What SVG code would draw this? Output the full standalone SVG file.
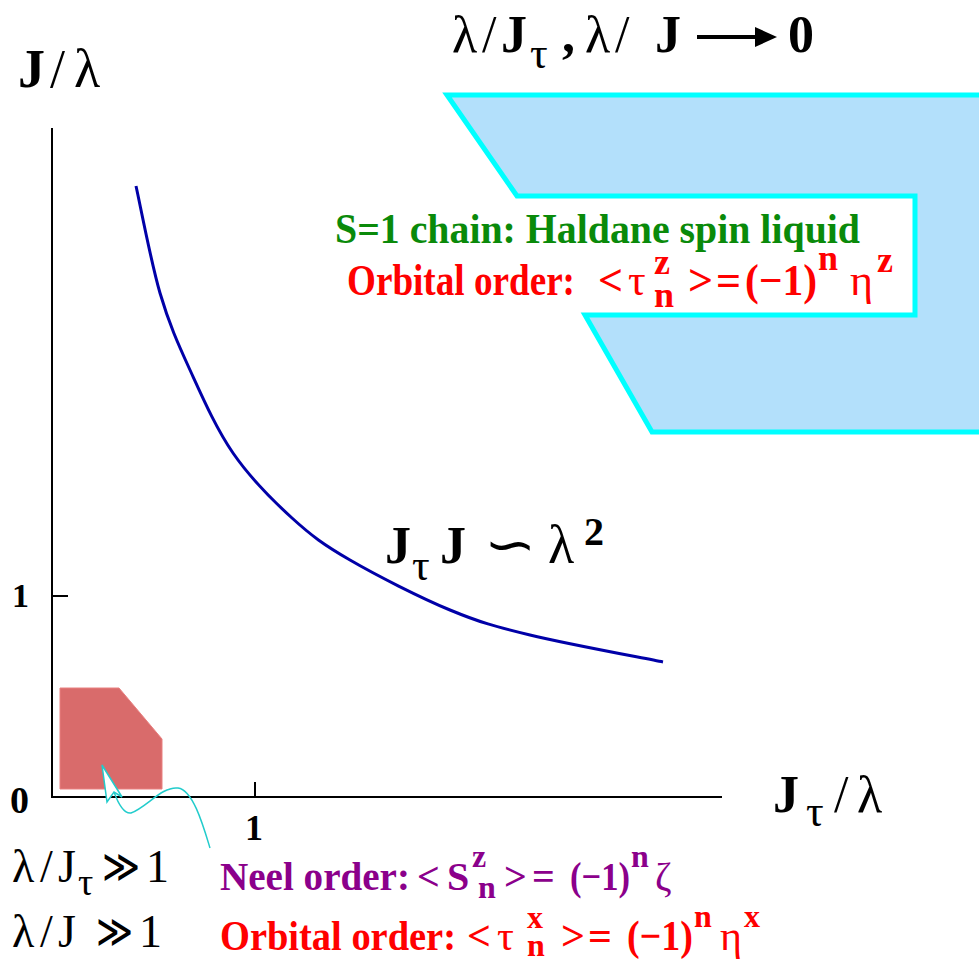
<svg xmlns="http://www.w3.org/2000/svg" width="979" height="961" viewBox="0 0 979 961">
<style>
text{font-family:"Liberation Serif","Times New Roman",serif;font-weight:bold;}
.blk{fill:#000;}
.nw{font-weight:normal;}
.grn{fill:#0a8a0a;}
.red{fill:#ff0000;}
.pur{fill:#8b008b;}
.axis{stroke:#000;stroke-width:2;fill:none;}
</style>
<rect width="979" height="961" fill="#fff"/>
<g id="haldane-region">
<polygon points="447,95 990,95 990,432 652,432 585,315 915,315 915,196 517,196" fill="#b3e0fb" stroke="#00ffff" stroke-width="5" stroke-linejoin="miter"/>
</g>
<g id="neel-region">
<polygon points="60,688 119,688 162,739 162,789 60,789" fill="#d96b6b" stroke="#e98080" stroke-width="1"/>
</g>
<g id="axes">
<line class="axis" x1="52" y1="128" x2="52" y2="798"/>
<line class="axis" x1="51" y1="797" x2="722" y2="797"/>
<line class="axis" x1="52" y1="596" x2="68" y2="596"/>
<line class="axis" x1="255" y1="782" x2="255" y2="797"/>
</g>
<g id="connectors">
<path id="boundary-curve" d="M136,186 C140,203.8 151,262.3 160,293 C169,323.7 177.8,343.3 190,370 C202.2,396.7 216,428.3 233,453 C250,477.7 272.5,500.2 292,518 C311.5,535.8 323.7,544.7 350,560 C376.3,575.3 420,597.5 450,610 C480,622.5 494.5,626.3 530,635 C565.5,643.7 640.8,657.5 663,662" fill="none" stroke="#0000a8" stroke-width="3"/>
<path id="pointer" d="M210,848 C203,825 193,790 178,788 C162,786 146,808 131,813 C124,814 118,803 114,792" fill="none" stroke="#22cccc" stroke-width="1.5"/>
<polygon points="102,765 122,797 114,792 107,802" fill="#fff" stroke="#22cccc" stroke-width="1.5" stroke-linejoin="miter"/>
<g id="limit-arrow">
<line x1="697" y1="37" x2="758" y2="37" stroke="#000" stroke-width="4"/>
<polygon points="755,27 777,37 755,47" fill="#000"/>
</g>
</g>
<g id="labels">
<text y="87" font-size="54" class="blk"><tspan x="18">J</tspan><tspan x="50" class="nw">/</tspan><tspan x="74" class="nw">λ</tspan></text>
<text y="52" font-size="52" class="blk"><tspan x="452" class="nw">λ</tspan><tspan x="482" class="nw">/</tspan><tspan x="501">J</tspan><tspan x="530" y="68" font-size="44" class="nw">τ</tspan><tspan x="562" y="52">,</tspan><tspan x="585" class="nw">λ</tspan><tspan x="615" class="nw">/</tspan><tspan x="655">J</tspan><tspan x="788">0</tspan></text>
<text x="335" y="243" font-size="42" class="grn" textLength="525" lengthAdjust="spacingAndGlyphs">S=1 chain: Haldane spin liquid</text>
<text y="295" font-size="44" class="red"><tspan x="347" textLength="228" lengthAdjust="spacingAndGlyphs">Orbital order:</tspan><tspan x="598">&lt;</tspan><tspan x="628" class="nw">τ</tspan><tspan x="654" y="274" font-size="36">z</tspan><tspan x="654" y="307" font-size="36">n</tspan><tspan x="688" y="295">&gt;</tspan><tspan x="716">=</tspan><tspan x="745" textLength="72" lengthAdjust="spacingAndGlyphs">(−1)</tspan><tspan x="818" y="270" font-size="36">n</tspan><tspan x="850" y="295" class="nw">η</tspan><tspan x="877" y="272" font-size="36">z</tspan></text>
<text y="563" font-size="52" class="blk"><tspan x="385">J</tspan><tspan x="412" y="580" font-size="44" class="nw">τ</tspan><tspan x="440" y="563">J</tspan></text>
<text x="484" y="563" font-size="54" class="blk nw" textLength="52" lengthAdjust="spacingAndGlyphs">∽</text>
<text y="563" font-size="54" class="blk"><tspan x="548" class="nw">λ</tspan><tspan x="584" y="545" font-size="40">2</tspan></text>
<text x="12" y="607" font-size="34" class="blk">1</text>
<text x="10" y="813" font-size="38" class="blk">0</text>
<text x="245" y="840" font-size="36" class="blk">1</text>
<text y="812" font-size="52" class="blk"><tspan x="773">J</tspan><tspan x="806" y="826" font-size="44" class="nw">τ</tspan><tspan x="834" y="812" class="nw">/</tspan><tspan x="857" class="nw">λ</tspan></text>
<text y="882" font-size="46" class="blk nw"><tspan x="12">λ</tspan><tspan x="40">/</tspan><tspan x="58">J</tspan><tspan x="78" y="895" font-size="38">τ</tspan><tspan x="102" y="882" textLength="38" lengthAdjust="spacingAndGlyphs">≫</tspan><tspan x="146">1</tspan></text>
<text y="947" font-size="46" class="blk nw"><tspan x="12">λ</tspan><tspan x="40">/</tspan><tspan x="58">J</tspan><tspan x="96" textLength="37" lengthAdjust="spacingAndGlyphs">≫</tspan><tspan x="139">1</tspan></text>
<text y="890" font-size="40" class="pur"><tspan x="220" textLength="190" lengthAdjust="spacingAndGlyphs">Neel order:</tspan><tspan x="417">&lt;</tspan><tspan x="447">S</tspan><tspan x="472" y="867" font-size="32">z</tspan><tspan x="478" y="898" font-size="32">n</tspan><tspan x="504" y="890">&gt;</tspan><tspan x="532">=</tspan><tspan x="570" textLength="60" lengthAdjust="spacingAndGlyphs">(−1)</tspan><tspan x="631" y="867" font-size="32">n</tspan><tspan x="655" y="890" class="nw">ζ</tspan></text>
<text y="950" font-size="42" class="red"><tspan x="220" textLength="236" lengthAdjust="spacingAndGlyphs">Orbital order:</tspan><tspan x="467">&lt;</tspan><tspan x="497" class="nw">τ</tspan><tspan x="527" y="928" font-size="32">x</tspan><tspan x="527" y="956" font-size="32">n</tspan><tspan x="561" y="950">&gt;</tspan><tspan x="588">=</tspan><tspan x="627" textLength="66" lengthAdjust="spacingAndGlyphs">(−1)</tspan><tspan x="694" y="927" font-size="32">n</tspan><tspan x="720" y="950" class="nw">η</tspan><tspan x="744" y="927" font-size="32">x</tspan></text>
</g>
</svg>
